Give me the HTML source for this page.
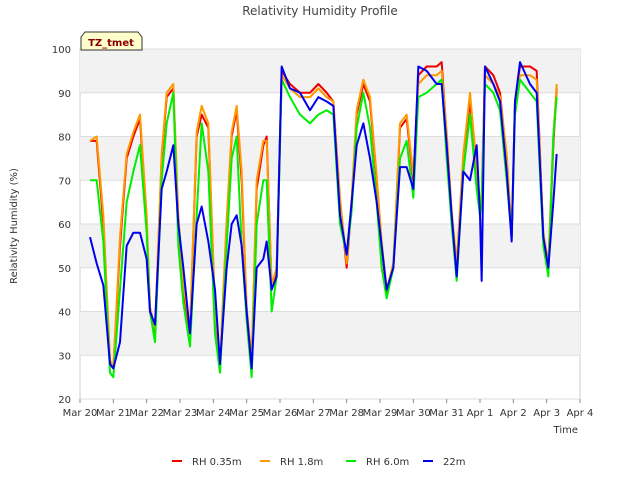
<!DOCTYPE html>
<html><head><meta charset="utf-8"><style>
body{margin:0;background:#fff;font-family:"DejaVu Sans","Liberation Sans",sans-serif}
text{font-family:"DejaVu Sans","Liberation Sans",sans-serif}
</style></head><body>
<svg id="chart" width="640" height="480" viewBox="0 0 640 480">
<rect x="0" y="0" width="640" height="480" fill="#fff"/>
<text x="320" y="15" text-anchor="middle" font-size="12" fill="#444">Relativity Humidity Profile</text>
<g id="bands"></g>
<g id="grid"></g>
<g id="axes"></g>
<g id="series"></g>
<text transform="translate(17,226) rotate(-90)" text-anchor="middle" font-size="10" fill="#333">Relativity Humidity (%)</text>
<text x="578" y="433" text-anchor="end" font-size="10" fill="#333">Time</text>
<g>
<path d="M81,50 L81,37 L85,32 L138,32 L142,37 L142,50 Z" fill="#ffffcc" stroke="#333" stroke-width="1"/>
<text x="111" y="46" text-anchor="middle" font-size="10" font-weight="bold" fill="#8b0000">TZ_tmet</text>
</g>
<g id="legend"></g>
</svg>
<script>
const tickLabels=["Mar 20","Mar 21","Mar 22","Mar 23","Mar 24","Mar 25","Mar 26","Mar 27","Mar 28","Mar 29","Mar 30","Mar 31","Apr 1","Apr 2","Apr 3","Apr 4"];
const yTicks=[20,30,40,50,60,70,80,90,100];
const days=[0.3,0.5,0.7,0.9,1.0,1.2,1.4,1.6,1.8,2.0,2.1,2.25,2.45,2.6,2.8,2.95,3.1,3.3,3.5,3.65,3.85,4.05,4.2,4.4,4.55,4.7,4.85,5.0,5.15,5.3,5.5,5.6,5.75,5.9,6.05,6.3,6.6,6.9,7.15,7.4,7.6,7.8,8.0,8.15,8.3,8.5,8.7,8.9,9.05,9.2,9.4,9.6,9.8,10.0,10.15,10.4,10.7,10.85,11.0,11.15,11.3,11.5,11.7,11.9,12.0,12.05,12.15,12.4,12.6,12.8,12.95,13.05,13.2,13.5,13.7,13.9,14.05,14.2,14.3];
const rh035=[79,79,60,28,27,55,75,80,84,60,40,35,75,89,91,60,45,35,80,85,82,40,27,60,80,86,70,40,28,68,78,80,45,50,95,92,90,90,92,90,88,65,50,65,85,92,88,70,55,44,50,82,84,70,94,96,96,97,80,62,50,75,88,72,64,65,96,94,90,75,57,88,96,96,95,57,50,78,91];
const rh18=[79,80,62,29,27,57,76,81,85,62,41,36,76,90,92,62,46,36,81,87,83,41,28,61,81,87,72,41,29,70,79,79,46,50,94,91,89,89,91,89,88,66,51,66,86,93,89,71,56,45,51,83,85,71,92,94,94,95,81,63,51,76,90,73,65,66,94,92,89,76,58,88,94,94,93,58,51,80,92];
const rh60=[70,70,56,26,25,45,65,72,78,58,40,33,70,83,90,55,42,32,62,83,72,35,26,55,75,80,55,38,25,60,70,70,40,48,93,89,85,83,85,86,85,60,53,63,82,90,82,65,50,43,50,75,79,66,89,90,92,93,75,60,47,72,85,68,62,65,92,90,86,70,57,85,93,90,88,55,48,80,89];
const rh22=[57,51,46,28,27,33,55,58,58,52,40,37,68,72,78,60,50,35,60,64,56,45,28,50,60,62,55,40,27,50,52,56,45,48,96,91,90,86,89,88,87,62,53,65,78,83,75,65,55,45,50,73,73,68,96,95,92,92,78,62,48,72,70,78,62,47,96,92,88,72,56,88,97,92,90,57,50,65,76];
const ML=80,MR=580,MT=49,MB=399,D0=0,D1=15,Y0=20,Y1=100;
const xs=d=>ML+(d-D0)/(D1-D0)*(MR-ML);
const ys=v=>MB-(v-Y0)/(Y1-Y0)*(MB-MT);
const NS="http://www.w3.org/2000/svg";
function mk(tag,attrs,parent){const e=document.createElementNS(NS,tag);for(const k in attrs)e.setAttribute(k,attrs[k]);parent.appendChild(e);return e;}
const bands=document.getElementById('bands'),grid=document.getElementById('grid'),axes=document.getElementById('axes'),ser=document.getElementById('series'),leg=document.getElementById('legend');
mk('rect',{x:ML,y:MT,width:MR-ML,height:MB-MT,fill:'#fff',stroke:'#ccc'},bands);
for(let i=0;i<yTicks.length-1;i++){if(i%2===1){const r=mk('rect',{x:ML,y:ys(yTicks[i+1]),width:MR-ML,height:ys(yTicks[i])-ys(yTicks[i+1]),fill:'#f2f2f2'},bands);

}}
yTicks.forEach(v=>{const l=mk('line',{x1:ML,x2:MR,y1:ys(v),y2:ys(v),stroke:'#ddd'},grid);


const t=mk('text',{x:ML-9,y:ys(v)+4,'text-anchor':'end','font-size':'10',fill:'#333'},axes);t.textContent=v;

});
tickLabels.forEach((s,i)=>{const x=xs(i);const l=mk('line',{x1:x,x2:x,y1:MB,y2:MB+4,stroke:'#888'},axes);


const t=mk('text',{x:x,y:MB+17,'text-anchor':'middle','font-size':'10',fill:'#333'},axes);t.textContent=s;

});
const series=[["RH 0.35m",rh035,"#ee0000"],["RH 1.8m",rh18,"#ff9900"],["RH 6.0m",rh60,"#00ee00"],["22m",rh22,"#0000ee"]];
series.forEach(([n,vals,c])=>{const p=mk('polyline',{points:vals.map((v,i)=>xs(days[i])+','+ys(v)).join(' '),fill:'none',stroke:c,'stroke-width':'2','stroke-linejoin':'round'},ser);

});
const lx=[172,260,346,423];
series.forEach(([n,v,c],i)=>{const g=mk('g',{},leg);


mk('line',{x1:lx[i],x2:lx[i]+10,y1:461,y2:461,stroke:c,'stroke-width':'2'},g);
const t=mk('text',{x:lx[i]+20,y:465,'font-size':'10',fill:'#333'},g);t.textContent=n;});
</script>
</body></html>
